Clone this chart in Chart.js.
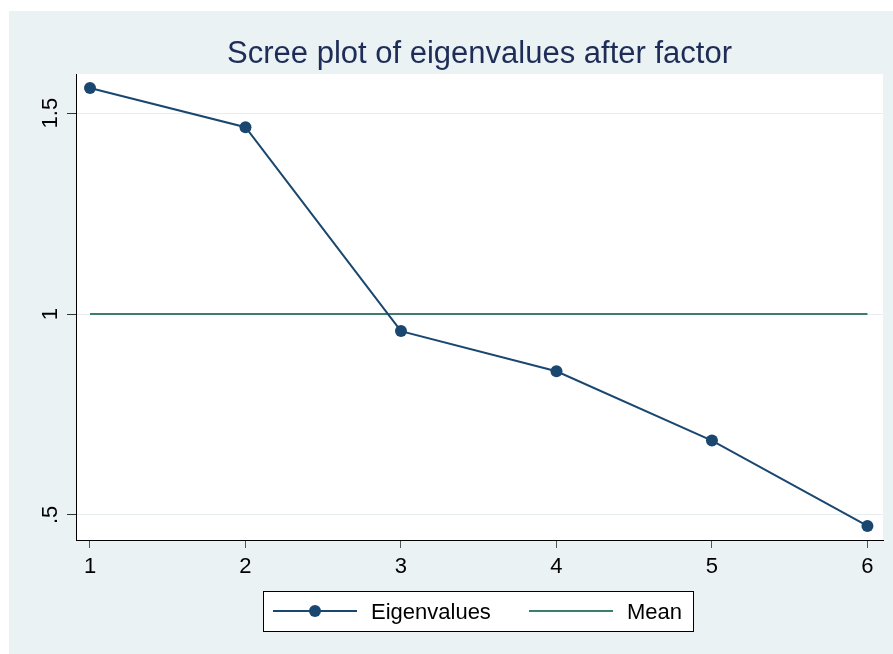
<!DOCTYPE html>
<html>
<head>
<meta charset="utf-8">
<title>Scree plot</title>
<script src="https://cdn.jsdelivr.net/npm/chart.js@4/dist/chart.umd.min.js"></script>
<style>
  html, body { margin: 0; padding: 0; background: #ffffff; }
  canvas { display: block; }
</style>
</head>
<body>
<canvas id="scree" width="893" height="654"></canvas>
<script>
// factor numbers and their eigenvalues
var factors = [1, 2, 3, 4, 5, 6];
var eigenvalues = [1.5625, 1.465, 0.9575, 0.8575, 0.685, 0.4725];

// axis ticks
var xTicks = [1, 2, 3, 4, 5, 6];
var yTicks = [0.5, 1, 1.5];
var yTickLabels = [".5", "1", "1.5"];

var titleText = "Scree plot of eigenvalues after factor";
var seriesNames = ["Eigenvalues", "Mean"];

var meanValue = eigenvalues.reduce(function (a, b) { return a + b; }, 0) / eigenvalues.length;

var navy = "#1a476f";
var teal = "#3b7d6e";
var fontFamily = "'Liberation Sans', Arial, Helvetica, sans-serif";

// graph region, plot region, title, y labels and legend
var stataLook = {
	id: "stataLook",
	beforeDraw: function (chart) {
		var ctx = chart.ctx;
		var area = chart.chartArea;
		ctx.save();
		ctx.fillStyle = "#eaf2f3";
		ctx.fillRect(9, 11, 884, 643);
		ctx.fillStyle = "#ffffff";
		ctx.fillRect(area.left, area.top, area.right - area.left, area.bottom - area.top);
		ctx.restore();
	},
	afterDraw: function (chart) {
		var ctx = chart.ctx;
		var area = chart.chartArea;
		var yScale = chart.scales.y;
		ctx.save();

		// title
		ctx.fillStyle = "#1e2d57";
		ctx.font = "31px " + fontFamily;
		ctx.textAlign = "center";
		ctx.textBaseline = "alphabetic";
		ctx.fillText(titleText, (area.left + area.right) / 2, 63);

		// rotated y tick labels
		ctx.fillStyle = "#000000";
		ctx.font = "22px " + fontFamily;
		for (var i = 0; i < yTicks.length; i++) {
			var py = yScale.getPixelForValue(yTicks[i]);
			ctx.save();
			ctx.translate(57, py);
			ctx.rotate(-Math.PI / 2);
			ctx.textAlign = "center";
			ctx.fillText(yTickLabels[i], 0, 0);
			ctx.restore();
		}

		// legend box
		ctx.fillStyle = "#ffffff";
		ctx.fillRect(263.5, 591.5, 430, 40);
		ctx.strokeStyle = "#000000";
		ctx.lineWidth = 1;
		ctx.strokeRect(263.5, 591.5, 430, 40);

		ctx.lineWidth = 2;
		ctx.strokeStyle = navy;
		ctx.beginPath();
		ctx.moveTo(273, 611);
		ctx.lineTo(357, 611);
		ctx.stroke();
		ctx.fillStyle = navy;
		ctx.beginPath();
		ctx.arc(315, 611, 6, 0, Math.PI * 2);
		ctx.fill();

		ctx.strokeStyle = teal;
		ctx.beginPath();
		ctx.moveTo(529, 611);
		ctx.lineTo(613, 611);
		ctx.stroke();

		ctx.fillStyle = "#000000";
		ctx.font = "22px " + fontFamily;
		ctx.textAlign = "left";
		ctx.fillText(seriesNames[0], 371, 619);
		ctx.fillText(seriesNames[1], 627, 619);
		ctx.restore();
	}
};

var chartData = {
	datasets: [{
		label: seriesNames[0],
		data: factors.map(function (f, i) { return { x: f, y: eigenvalues[i] }; }),
		borderColor: navy,
		backgroundColor: navy,
		borderWidth: 2,
		pointRadius: 6,
		pointBorderWidth: 0,
		pointBackgroundColor: navy,
		tension: 0
	}, {
		label: seriesNames[1],
		data: [{ x: factors[0], y: meanValue }, { x: factors[factors.length - 1], y: meanValue }],
		borderColor: teal,
		borderWidth: 2,
		pointRadius: 0,
		tension: 0
	}]
};

var chartOptions = {
	responsive: false,
	animation: false,
	events: [],
	layout: { padding: { left: 0, top: 74, right: 10, bottom: 0 } },
	plugins: {
		legend: { display: false },
		title: { display: false },
		tooltip: { enabled: false }
	},
	scales: {
		x: {
			type: "linear",
			min: 0.91,
			max: 6.1,
			afterBuildTicks: function (scale) {
				scale.ticks = xTicks.map(function (v) { return { value: v }; });
			},
			afterFit: function (scale) { scale.height = 114; },
			grid: {
				drawOnChartArea: false,
				drawTicks: true,
				tickLength: 8,
				tickColor: "#555555",
				tickWidth: 1
			},
			border: { display: true, color: "#000000", width: 1 },
			ticks: {
				color: "#000000",
				font: { family: fontFamily, size: 22 },
				padding: 6,
				maxRotation: 0
			}
		},
		y: {
			type: "linear",
			min: 0.4375,
			max: 1.5975,
			afterBuildTicks: function (scale) {
				scale.ticks = yTicks.map(function (v) { return { value: v }; });
			},
			afterFit: function (scale) { scale.width = 76; },
			grid: {
				color: "#e6eef0",
				lineWidth: 1,
				drawTicks: true,
				tickLength: 9,
				tickColor: "#333333",
				tickWidth: 1
			},
			border: { display: true, color: "#000000", width: 1 },
			ticks: { display: false }
		}
	}
};

new Chart(document.getElementById("scree"), {
	type: "line",
	data: chartData,
	options: chartOptions,
	plugins: [stataLook]
});
</script>
</body>
</html>
